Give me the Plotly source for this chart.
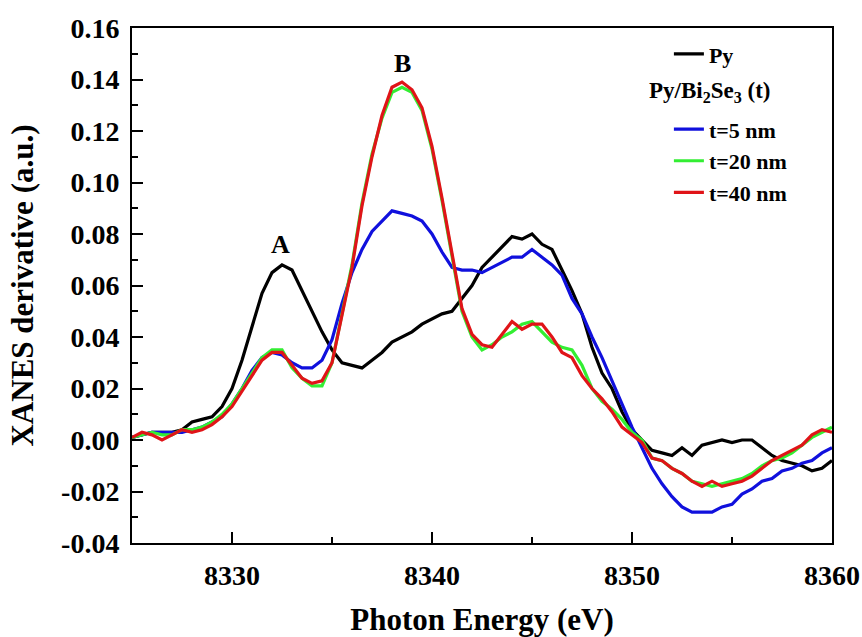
import plotly.graph_objects as go

energy = [8325 + 0.5 * i for i in range(71)]

py = [0.001, 0.002, 0.003, 0.003, 0.003, 0.004, 0.007, 0.008, 0.009, 0.013,
      0.020, 0.031, 0.044, 0.057, 0.065, 0.068, 0.066, 0.058, 0.050, 0.042,
      0.035, 0.030, 0.029, 0.028, 0.031, 0.034, 0.038, 0.040, 0.042, 0.045,
      0.047, 0.049, 0.050, 0.055, 0.060, 0.067, 0.071, 0.075, 0.079, 0.078,
      0.080, 0.076, 0.074, 0.066, 0.058, 0.049, 0.036, 0.026, 0.020, 0.011,
      0.004, 0.000, -0.004, -0.005, -0.006, -0.003, -0.006, -0.002, -0.001, 0.000,
      -0.001, 0.000, 0.000, -0.003, -0.006, -0.008, -0.009, -0.010, -0.012, -0.011,
      -0.008]

t5 = [0.001, 0.002, 0.003, 0.003, 0.003, 0.003, 0.004, 0.005, 0.007, 0.009,
      0.014, 0.020, 0.027, 0.032, 0.034, 0.033, 0.030, 0.028, 0.028, 0.031,
      0.039, 0.053, 0.065, 0.074, 0.081, 0.085, 0.089, 0.088, 0.087, 0.085,
      0.080, 0.073, 0.067, 0.066, 0.066, 0.065, 0.067, 0.069, 0.071, 0.071,
      0.074, 0.071, 0.068, 0.064, 0.055, 0.049, 0.040, 0.032, 0.023, 0.014,
      0.005, -0.003, -0.011, -0.017, -0.022, -0.026, -0.028, -0.028, -0.028, -0.026,
      -0.025, -0.021, -0.019, -0.016, -0.015, -0.012, -0.011, -0.009, -0.008, -0.005,
      -0.003]

t20 = [0.001, 0.002, 0.003, 0.002, 0.002, 0.004, 0.004, 0.005, 0.007, 0.010,
       0.014, 0.020, 0.026, 0.032, 0.035, 0.035, 0.028, 0.024, 0.021, 0.021,
       0.030, 0.049, 0.068, 0.092, 0.111, 0.125, 0.135, 0.137, 0.135, 0.128,
       0.113, 0.093, 0.071, 0.050, 0.040, 0.035, 0.037, 0.040, 0.042, 0.045,
       0.046, 0.042, 0.038, 0.036, 0.035, 0.029, 0.020, 0.015, 0.012, 0.008,
       0.003, 0.000, -0.007, -0.008, -0.011, -0.013, -0.016, -0.017, -0.018, -0.017,
       -0.016, -0.015, -0.013, -0.010, -0.008, -0.007, -0.005, -0.002, 0.001, 0.003,
       0.005]

t40 = [0.001, 0.003, 0.002, 0.000, 0.002, 0.004, 0.003, 0.004, 0.006, 0.009,
       0.013, 0.019, 0.025, 0.031, 0.034, 0.034, 0.029, 0.024, 0.022, 0.023,
       0.030, 0.049, 0.067, 0.091, 0.110, 0.126, 0.137, 0.139, 0.136, 0.129,
       0.114, 0.094, 0.072, 0.051, 0.041, 0.037, 0.036, 0.041, 0.046, 0.043,
       0.045, 0.045, 0.040, 0.034, 0.032, 0.025, 0.020, 0.016, 0.011, 0.005,
       0.002, -0.001, -0.007, -0.008, -0.011, -0.013, -0.016, -0.018, -0.016, -0.018,
       -0.017, -0.016, -0.014, -0.011, -0.008, -0.006, -0.004, -0.002, 0.002, 0.004,
       0.003]

series_names = ["Py", "t=5 nm", "t=20 nm", "t=40 nm"]
series_colors = ["#000000", "#1010dd", "#33ee33", "#e01418"]
group_title = "Py/Bi<sub>2</sub>Se<sub>3</sub> (t)"

x_tick_vals = [8330, 8340, 8350, 8360]
x_tick_text = ["8330", "8340", "8350", "8360"]
y_tick_vals = [-0.04, -0.02, 0.00, 0.02, 0.04, 0.06, 0.08, 0.10, 0.12, 0.14, 0.16]
y_tick_text = ["-0.04", "-0.02", "0.00", "0.02", "0.04", "0.06", "0.08", "0.10", "0.12", "0.14", "0.16"]

peak_labels = ["A", "B"]
peak_x = [8332.4, 8338.5]
peak_y = [0.0758, 0.1464]

FONT = "Liberation Serif"


def bfont(size):
    return dict(family=FONT, size=size, color="black", weight="bold")


fig = go.Figure()
all_series = [py, t5, t20, t40]
for i, (name, ys, col) in enumerate(zip(series_names, all_series, series_colors)):
    fig.add_trace(go.Scatter(
        x=energy, y=ys, mode="lines", name=name,
        line=dict(color=col, width=3.2),
        showlegend=True,
        legend="legend" if i == 0 else "legend2",
    ))

for lab, xx, yy in zip(peak_labels, peak_x, peak_y):
    fig.add_annotation(x=xx, y=yy, text=lab, showarrow=False, font=bfont(26))

# legend sub-heading
fig.add_annotation(xref="paper", yref="paper", x=0.735, y=0.876,
                   xanchor="left", yanchor="middle", showarrow=False,
                   text=group_title, font=bfont(23))

axis_common = dict(
    showline=True, linecolor="black", linewidth=2, mirror=True,
    showgrid=False, zeroline=False, automargin=False,
    ticks="inside", ticklen=11, tickwidth=2, tickcolor="black",
    tickfont=bfont(28),
    ticklabeloverflow="allow",
)

fig.update_xaxes(
    range=[8325, 8360], tickvals=x_tick_vals, ticktext=x_tick_text,
    minor=dict(ticks="inside", ticklen=6, tickwidth=2, tickcolor="black", dtick=5, tick0=8325),
    ticklabelstandoff=6,
    title=dict(text="Photon Energy (eV)", font=bfont(31), standoff=37),
    **axis_common,
)
fig.update_yaxes(
    range=[-0.04, 0.16], tickvals=y_tick_vals, ticktext=y_tick_text,
    minor=dict(ticks="inside", ticklen=6, tickwidth=2, tickcolor="black", dtick=0.01, tick0=0),
    ticklabelstandoff=5,
    title=dict(text="XANES derivative (a.u.)", font=bfont(31), standoff=18),
    **axis_common,
)

legend_common = dict(
    bgcolor="rgba(0,0,0,0)", borderwidth=0,
    font=bfont(22),
    xanchor="left", yanchor="top", itemwidth=30, tracegroupgap=0,
)
fig.update_layout(
    width=862, height=637,
    margin=dict(l=132, r=30, t=28, b=94, autoexpand=False),
    paper_bgcolor="white", plot_bgcolor="white",
    font=dict(family=FONT, color="black"),
    showlegend=True,
    legend=dict(x=0.767, y=0.990, **legend_common),
    legend2=dict(x=0.767, y=0.844, **legend_common),
)

fig.write_html(
    "out.html",
    config={"staticPlot": True, "displayModeBar": False},
    post_script="document.body.style.margin='0px';document.documentElement.style.overflow='hidden';",
)
